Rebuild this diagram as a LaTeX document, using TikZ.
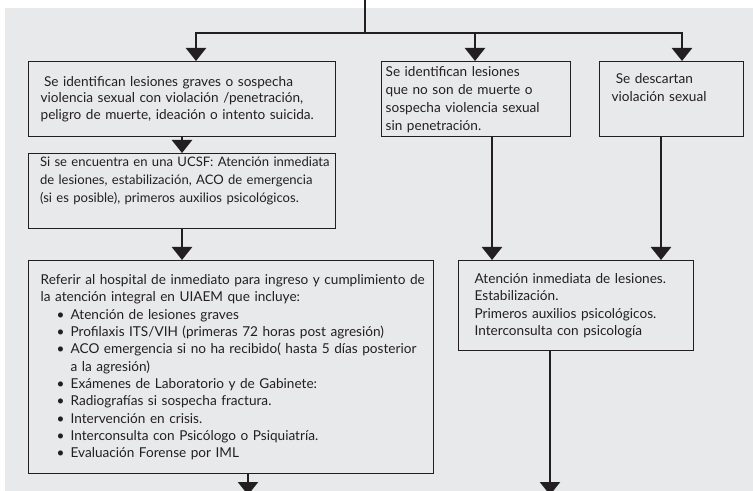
\documentclass[tikz,border=0pt]{standalone}
\usepackage{fontspec}
\setmainfont{Lato}
\usetikzlibrary{arrows.meta}
\definecolor{fondo}{RGB}{232,233,235}
\definecolor{tinta}{RGB}{35,31,32}
\newcommand{\vin}{\hspace*{12pt}\makebox[10.5pt][l]{\textbullet}}
\newcommand{\sig}{\hspace*{22.5pt}}

\begin{document}
\begin{tikzpicture}[x=0.75pt,y=-0.75pt,
    caja/.style={rectangle,draw=tinta,line width=1pt,anchor=north west,align=left,text=tinta,inner ysep=0pt},
    flecha/.style={draw=tinta,line width=1.9pt,-{Triangle[width=15pt,length=9.75pt]}}]
\useasboundingbox (0,0) rectangle (753,491);
\fill[fondo] (5,8) rectangle (753,491);

% columna izquierda
\node (grave) at (28,61) [caja,inner xsep=9pt,text width=212pt,minimum height=56.25pt,font=\fontsize{10.2}{12.5}\selectfont]
    {\hspace*{0.25em}Se identifican lesiones graves o sospecha\\ \mbox{violencia sexual con violación /penetración,}\\ \mbox{peligro de muerte, ideación o intento suicida.}};
\node (ucsf) at (28,153) [caja,inner xsep=8.5pt,text width=213pt,minimum height=56.25pt,font=\fontsize{9.8}{13.5}\selectfont]
    {\mbox{Si se encuentra en una UCSF: Atención inmediata}\\ \mbox{de lesiones, estabilización, ACO de emergencia}\\ \mbox{(si es posible), primeros auxilios psicológicos.}\\ \strut};
\node (hospital) at (28,260) [caja,inner xsep=9pt,text width=285.75pt,minimum height=159.75pt,font=\fontsize{10.2}{13}\selectfont]
    {\mbox{Referir al hospital de inmediato para ingreso y cumplimiento de}\\
     la atención integral en UIAEM que incluye:\\
     \vin Atención de lesiones graves\\
     \vin Profilaxis ITS/VIH (primeras 72 horas post agresión)\\
     \vin \mbox{ACO emergencia si no ha recibido( hasta 5 días posterior}\\
     \sig a la agresión)\\
     \vin Exámenes de Laboratorio y de Gabinete:\\
     \vin Radiografías si sospecha fractura.\\
     \vin Intervención en crisis.\\
     \vin Interconsulta con Psicólogo o Psiquiatría.\\
     \vin Evaluación Forense por IML};

% columnas derechas
\node (leve) at (381,61) [caja,inner xsep=3pt,text width=135.75pt,minimum height=56.25pt,font=\fontsize{10.2}{13.5}\selectfont]
    {Se identifican lesiones\\ que no son de muerte o\\ \mbox{sospecha violencia sexual}\\ sin penetración.};
\node (descarte) at (599,61) [caja,inner xsep=9pt,text width=90pt,minimum height=56.25pt,font=\fontsize{10.2}{13.5}\selectfont]
    {\hspace*{0.3em}Se descartan\\ violación sexual\\ \strut};
\node (atencion) at (458,260) [caja,inner xsep=12pt,text width=152.25pt,minimum height=67.5pt,font=\fontsize{10.2}{13}\selectfont]
    {Atención inmediata de lesiones.\\ Estabilización.\\ Primeros auxilios psicológicos.\\ Interconsulta con psicología};

% conectores
\coordinate (arriba) at (365,0);
\coordinate (reparto) at (365,33);
\coordinate (xA) at (196,33);
\coordinate (xD) at (475,33);
\coordinate (xE) at (682,33);
\coordinate (xDF) at (492,0);
\coordinate (xEF) at (661,0);
\coordinate (salidaC) at (248,495);
\coordinate (salidaF) at (550,495);
\draw[draw=tinta,line width=1.9pt] (arriba) -- (reparto);
\draw[flecha] (reparto) -| (xA |- grave.north);
\draw[flecha] (reparto) -| (xE |- descarte.north);
\draw[flecha] (xD) -- (xD |- leve.north);
\draw[flecha] (grave.south) -- (ucsf.north);
\draw[flecha] (ucsf.south) -- (ucsf.south |- hospital.north);
\draw[flecha] (leve.south -| xDF) -- (atencion.north -| xDF);
\draw[flecha] (descarte.south -| xEF) -- (atencion.north -| xEF);
\draw[flecha] (hospital.south -| salidaC) -- (salidaC);
\draw[flecha] (atencion.south -| salidaF) -- (salidaF);
\end{tikzpicture}
\end{document}
